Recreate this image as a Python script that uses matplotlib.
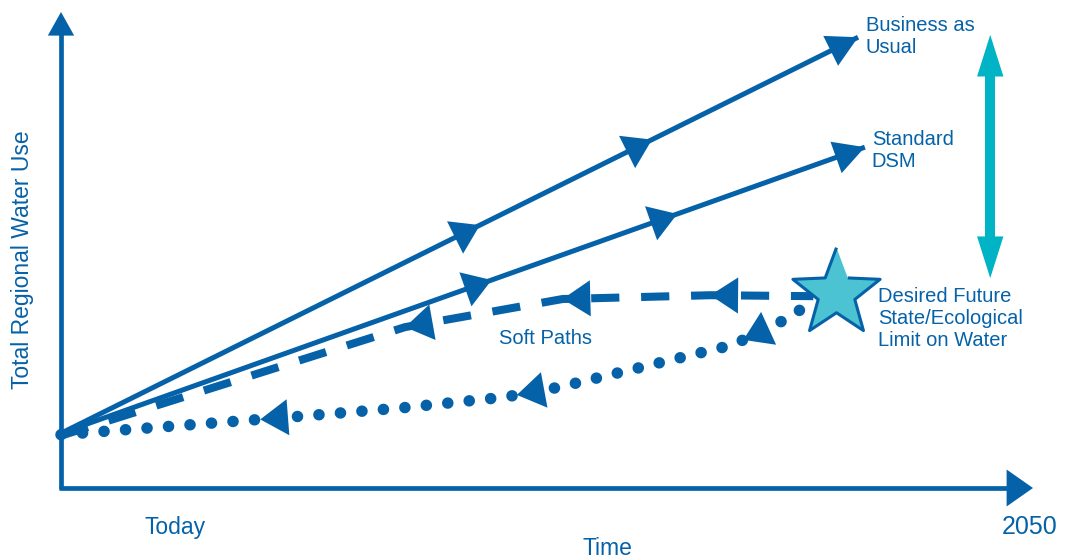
import numpy as np
import matplotlib.pyplot as plt
from matplotlib.path import Path

plt.rcParams['font.family'] = ['Liberation Sans', 'DejaVu Sans']

BLUE = '#0562a8'
CYAN = '#00b4c6'
STAR_FILL = '#4cc3d3'

# x: progress from today (0) to 2050 (100), y: relative total water use
bau_x = [0, 82.0]
bau_y = [11.5, 94.7]
dsm_x = [0, 82.7]
dsm_y = [11.5, 71.6]
soft_x = [0, 35.4, 43.1, 51.6, 66.8, 77.4]
soft_y = [11.0, 33.8, 36.6, 39.7, 40.5, 40.3]
dot_x = [0, 23.6, 34.9, 45.7, 51.3, 69.0, 73.5, 75.5, 77.4]
dot_y = [11.2, 14.9, 16.8, 19.1, 21.2, 30.0, 34.2, 36.8, 38.9]

# where the direction arrows sit on each path
bau_heads = [43.1, 60.8]
dsm_heads = [44.3, 63.4]
soft_heads = [35.4, 51.6, 66.8]
dot_heads = [20.5, 46.9, 70.2]

target = (79.7, 41.0)        # desired future state
gap_top, gap_bottom = 95.2, 44.1   # span between BAU and the target

fig = plt.figure(figsize=(10.67, 5.58), dpi=100)
ax = fig.add_axes([0, 0, 1, 1])
ax.set_xlim(-61 / 9.72, 1006 / 9.72)
ax.set_ylim(-70 / 4.76, 488 / 4.76)
ax.axis('off')


def head(tip, tail, L, W, color=BLUE, z=4):
    ax.annotate('', xy=tip, xytext=tail,
                arrowprops=dict(arrowstyle=f'-|>,head_length={L},head_width={W}',
                                color=color, lw=0, shrinkA=0, shrinkB=0,
                                mutation_scale=10), zorder=z)


def path_heads(xs, ys, at, step, L=2.0, W=1.3):
    for xt in at:
        xb = xt - step
        head((xt, np.interp(xt, xs, ys)), (xb, np.interp(xb, xs, ys)), L, W)


# axes with arrow tips
ax.plot([0, 0], [-0.3, 97], color=BLUE, lw=3.4, solid_capstyle='butt')
ax.plot([-0.2, 97.5], [0, 0], color=BLUE, lw=3.4, solid_capstyle='butt')
head((0, 100), (0, 95), 1.7, 0.95)
head((100, 0), (95, 0), 1.9, 1.33)

# business as usual and standard DSM
for xs, ys, at in [(bau_x, bau_y, bau_heads), (dsm_x, dsm_y, dsm_heads)]:
    ax.plot(xs, ys, color=BLUE, lw=3.6, solid_capstyle='butt')
    path_heads(xs, ys, at, 0.5)
    path_heads(xs, ys, [xs[-1]], 0.5, L=2.2, W=1.2)

# soft paths back from the target
ax.plot(soft_x, soft_y, color=BLUE, lw=5.8, linestyle=(0, (3.5, 2.7)),
        dash_capstyle='butt')
path_heads(soft_x, soft_y, soft_heads, -0.5)
ax.plot(dot_x, dot_y, color=BLUE, lw=8.3, linestyle=(0, (0.01, 1.86)),
        dash_capstyle='round')
path_heads(dot_x, dot_y, dot_heads, -0.5)

# target star
ang = np.pi / 2 + np.arange(10) * np.pi / 5
rad = np.where(np.arange(10) % 2 == 0, 1.0, 0.42)
star = Path(np.column_stack([rad * np.cos(ang), rad * np.sin(ang)]))
ax.plot([target[0]], [target[1]], marker=star, ms=66, mfc=STAR_FILL,
        mec=BLUE, mew=2.2, zorder=6)

# gap between BAU and the ecological limit
ax.plot([95.6, 95.6], [gap_bottom + 7, gap_top - 7], color=CYAN, lw=7.2,
        solid_capstyle='butt')
head((95.6, gap_top), (95.6, gap_top - 3), 3.0, 0.95, color=CYAN)
head((95.6, gap_bottom), (95.6, gap_bottom + 3), 3.0, 0.95, color=CYAN)

# labels
lbl = dict(color=BLUE, fontsize=14.5, ha='left', va='center', linespacing=1.2)
ax.text(82.8, 94.9, 'Business as\nUsual', **lbl)
ax.text(83.4, 71.0, 'Standard\nDSM', **lbl)
ax.text(84.1, 35.7, 'Desired Future\nState/Ecological\nLimit on Water', **lbl)
ax.text(49.8, 31.5, 'Soft Paths', color=BLUE, fontsize=14.5, ha='center', va='center')
ax.text(11.7, -8.2, 'Today', color=BLUE, fontsize=16.5, ha='center', va='center')
ax.text(99.7, -8.2, '2050', color=BLUE, fontsize=18, ha='center', va='center')
ax.text(56.2, -10.3, 'Time', color=BLUE, fontsize=16.5, ha='center', va='top')
ax.text(-4.0, 47.9, 'Total Regional Water Use', color=BLUE, fontsize=16.5,
        rotation=90, ha='center', va='center')

fig.savefig('out.png', dpi=100, facecolor='white')
